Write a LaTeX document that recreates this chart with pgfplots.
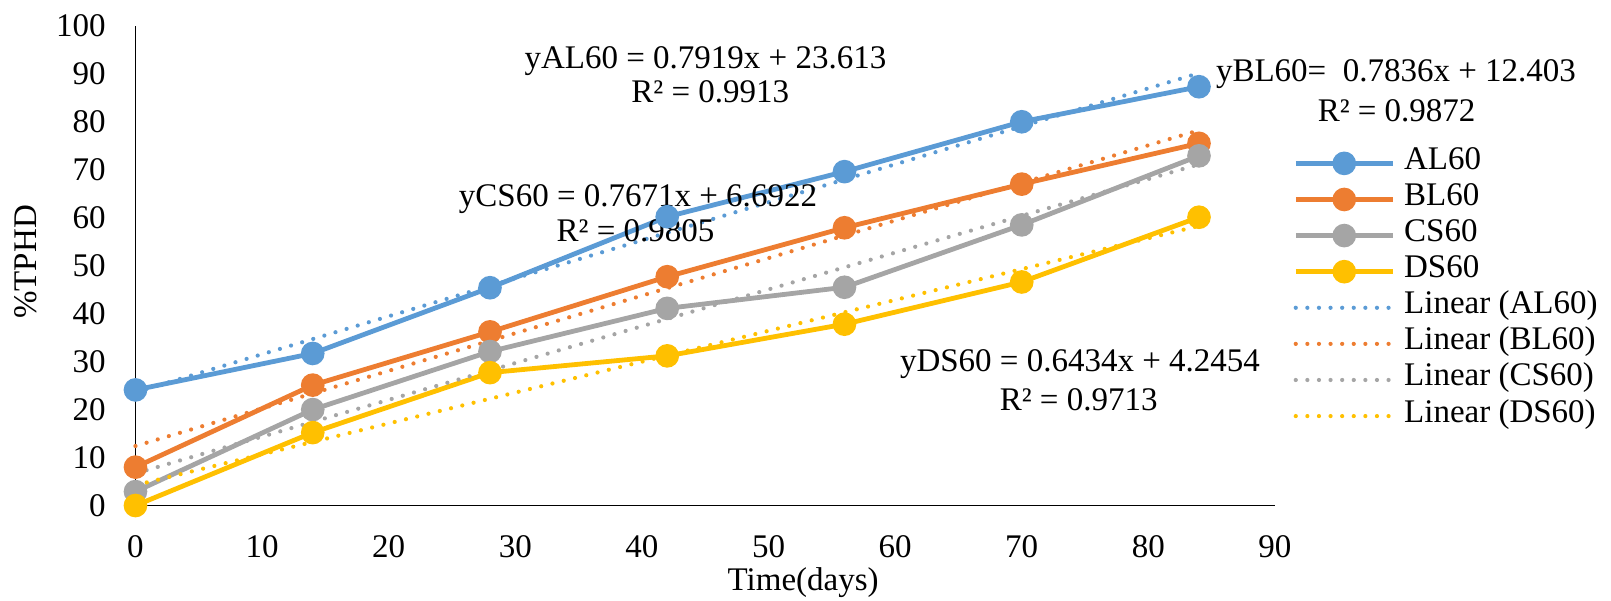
\documentclass[border=0pt]{standalone}
\usepackage{pgfplots}
\pgfplotsset{compat=1.18}
\usepackage{fontspec}
\setmainfont{Liberation Serif}
\definecolor{cA}{HTML}{5B9BD5}
\definecolor{cB}{HTML}{ED7D31}
\definecolor{cC}{HTML}{A5A5A5}
\definecolor{cD}{HTML}{FFC000}
\begin{document}
\begin{tikzpicture}[font=\fontsize{16.5}{19.5}\selectfont]
\begin{axis}[
  scale only axis,
  width=569.75pt, height=239.85pt,
  xmin=0, xmax=90, ymin=0, ymax=100,
  xtick={0,10,...,90}, ytick={0,10,...,100},
  axis x line=bottom, axis y line=left,
  axis line style={-, black, line width=0.8pt},
  major tick length=0pt,
  /pgf/number format/assume math mode=true,
  tick label style={font=\fontsize{16.5}{19.5}\selectfont},
  xticklabel style={anchor=north, inner sep=0pt, yshift=-15pt},
  yticklabel style={anchor=east, inner sep=0pt, xshift=-14.75pt},
  xlabel={Time(days)},
  ylabel={\%TPHD},
  xlabel style={at={(rel axis cs:0.586,-0.177)}, anchor=base, inner sep=0pt},
  ylabel style={at={(rel axis cs:-0.096,0.508)}, anchor=center, inner sep=0pt},
  clip=false,
  legend style={at={(rel axis cs:1.0158,0.7517)}, anchor=north west, draw=none, fill=none,
    inner sep=0pt, row sep=0pt, column sep=4.5pt,
    nodes={inner sep=0pt, text height=12pt, text depth=6.05pt, font=\fontsize{16.5}{19.5}\selectfont}},
  legend cell align=left,
]
\addplot[cA, line width=2.4pt, mark=*, mark size=4.7pt, mark options={solid},
  legend image code/.code={\draw[mark repeat=2,mark phase=2] plot coordinates {(0pt,0pt) (24.25pt,0pt) (48.5pt,0pt)};}]
  coordinates {(0,24.1) (14,31.7) (28,45.4) (42,60.2) (56,69.6) (70,80.0) (84,87.3)};
\addlegendentry{AL60}
\addplot[cB, line width=2.4pt, mark=*, mark size=4.7pt, mark options={solid},
  legend image code/.code={\draw[mark repeat=2,mark phase=2] plot coordinates {(0pt,0pt) (24.25pt,0pt) (48.5pt,0pt)};}]
  coordinates {(0,8.0) (14,25.1) (28,36.2) (42,47.7) (56,57.9) (70,67.0) (84,75.5)};
\addlegendentry{BL60}
\addplot[cC, line width=2.4pt, mark=*, mark size=4.7pt, mark options={solid},
  legend image code/.code={\draw[mark repeat=2,mark phase=2] plot coordinates {(0pt,0pt) (24.25pt,0pt) (48.5pt,0pt)};}]
  coordinates {(0,2.9) (14,20.0) (28,32.1) (42,41.1) (56,45.5) (70,58.5) (84,72.9)};
\addlegendentry{CS60}
\addplot[cD, line width=2.4pt, mark=*, mark size=4.7pt, mark options={solid},
  legend image code/.code={\draw[mark repeat=2,mark phase=2] plot coordinates {(0pt,0pt) (24.25pt,0pt) (48.5pt,0pt)};}]
  coordinates {(0,0.0) (14,15.2) (28,27.7) (42,31.2) (56,37.8) (70,46.6) (84,60.1)};
\addlegendentry{DS60}
\pgfplotsset{trend/.style={line width=2.1pt, line cap=round, dash pattern=on 0pt off 5.8pt, no marks,
  legend image code/.code={\draw (0pt,0pt) -- (48.5pt,0pt);}}}
\addplot[cA, trend] coordinates {(0,23.613) (84,90.133)};
\addlegendentry{Linear (AL60)}
\addplot[cB, trend] coordinates {(0,12.403) (84,78.225)};
\addlegendentry{Linear (BL60)}
\addplot[cC, trend] coordinates {(0,6.692) (84,71.128)};
\addlegendentry{Linear (CS60)}
\addplot[cD, trend] coordinates {(0,4.245) (84,58.291)};
\addlegendentry{Linear (DS60)}
\node[anchor=base, inner sep=0pt] at (axis cs:45.02,91.0) {yAL60 = 0.7919x + 23.613};
\node[anchor=base, inner sep=0pt] at (axis cs:45.4,84.0) {R² = 0.9913};
\node[anchor=base, inner sep=0pt] at (axis cs:99.56,88.35) {yBL60=\ \ 0.7836x + 12.403};
\node[anchor=base, inner sep=0pt] at (axis cs:99.61,80.0) {R² = 0.9872};
\node[anchor=base, inner sep=0pt] at (axis cs:39.69,62.4) {yCS60 = 0.7671x + 6.6922};
\node[anchor=base, inner sep=0pt] at (axis cs:39.5,55.0) {R² = 0.9805};
\node[anchor=base, inner sep=0pt] at (axis cs:74.6,28.0) {yDS60 = 0.6434x + 4.2454};
\node[anchor=base, inner sep=0pt] at (axis cs:74.5,19.8) {R² = 0.9713};
\coordinate (bbsw) at (rel axis cs:-0.1189,-0.1970);
\coordinate (bbne) at (rel axis cs:1.2949,1.0538);
\end{axis}
\pgfresetboundingbox
\path[use as bounding box] (bbsw) rectangle (bbne);
\end{tikzpicture}
\end{document}
